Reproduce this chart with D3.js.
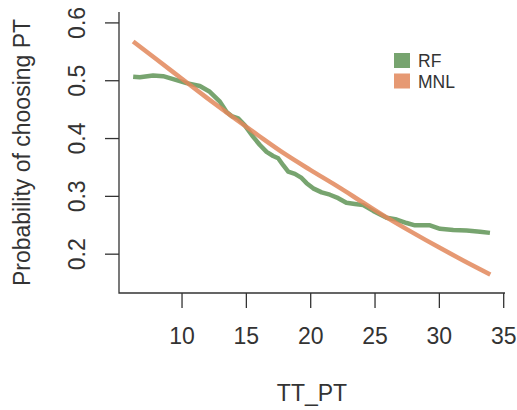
<!DOCTYPE html>
<html>
<head>
<meta charset="utf-8">
<script src="https://cdn.jsdelivr.net/npm/d3@7"></script>
<style>
  html, body { margin: 0; padding: 0; background: #fff; }
  svg { display: block; font-family: "Liberation Sans", Arial, Helvetica, sans-serif; }
</style>
</head>
<body>
<svg id="chart" width="517" height="410"></svg>
<script>
// ---- data ----
const rfX = [6.24, 6.76, 7.79, 8.57, 9.35, 10.39, 11.42, 12.20, 12.98, 13.50, 13.89, 14.40, 14.92, 15.57, 16.09, 16.61, 17.12, 17.51, 17.90, 18.29, 18.81, 19.33, 19.72, 20.23, 20.89, 21.53, 22.18, 22.81, 23.48, 24.12, 24.90, 25.94, 26.72, 27.50, 28.14, 29.31, 30.09, 31.12, 32.16, 33.20, 33.97];
const rfY = [0.506, 0.505, 0.508, 0.507, 0.502, 0.495, 0.490, 0.480, 0.463, 0.445, 0.438, 0.434, 0.422, 0.402, 0.388, 0.376, 0.369, 0.365, 0.353, 0.342, 0.338, 0.331, 0.322, 0.313, 0.306, 0.302, 0.296, 0.288, 0.286, 0.284, 0.274, 0.262, 0.259, 0.253, 0.249, 0.249, 0.243, 0.241, 0.240, 0.238, 0.236];
const mnlX = [6.24, 8, 10, 12, 14, 16, 18, 20, 22, 24, 26, 28, 30, 32, 34];
const mnlY = [0.567, 0.537, 0.503, 0.469, 0.436, 0.404, 0.373, 0.345, 0.318, 0.290, 0.262, 0.236, 0.211, 0.187, 0.164];
const xTicks = [10, 15, 20, 25, 30, 35];
const yTicks = [0.2, 0.3, 0.4, 0.5, 0.6];
const seriesNames = ["RF", "MNL"];
const seriesColors = ["#5f9456", "#e2875a"];
const xLabel = "TT_PT";
const yLabel = "Probability of choosing PT";

// ---- layout ----
const svg = d3.select("#chart");
const pLeft = 119, pRight = 505, pTop = 12, pBottom = 293;
const x = d3.scaleLinear().domain([5.14, 35.14]).range([pLeft, pRight]);
const y = d3.scaleLinear().domain([0.132, 0.618]).range([pBottom, pTop]);
const ink = "#333";

// axis box lines (L-shaped)
svg.append("path")
  .attr("d", `M${pLeft},${pTop}V${pBottom}H${pRight}`)
  .attr("fill", "none").attr("stroke", ink).attr("stroke-width", 1.3);

// x axis
const xAxis = d3.axisBottom(x).tickValues(xTicks).tickSize(15).tickFormat(d3.format("d"));
const gx = svg.append("g").attr("transform", `translate(0,${pBottom})`).call(xAxis);
gx.select(".domain").remove();
gx.selectAll(".tick line").attr("stroke", ink).attr("stroke-width", 1.3);
gx.selectAll(".tick text").attr("fill", ink).attr("font-size", 23).attr("font-family", "Liberation Sans, Arial, sans-serif")
  .attr("y", 43).attr("dy", "0.35em");

// y axis
const yAxis = d3.axisLeft(y).tickValues(yTicks).tickSize(14).tickFormat(d3.format(".1f"));
const gy = svg.append("g").attr("transform", `translate(${pLeft},0)`).call(yAxis);
gy.select(".domain").remove();
gy.selectAll(".tick line").attr("stroke", ink).attr("stroke-width", 1.3);
gy.selectAll(".tick text")
  .attr("fill", ink).attr("font-size", 23).attr("font-family", "Liberation Sans, Arial, sans-serif")
  .attr("x", 0).attr("y", 0)
  .attr("text-anchor", "middle")
  .attr("transform", "translate(-42,0) rotate(-90)")
  .attr("dy", "0.35em");

// axis titles
svg.append("text").attr("x", (pLeft + pRight) / 2).attr("y", 393).attr("dy", "0.35em")
  .attr("text-anchor", "middle").attr("font-size", 23).attr("fill", ink).text(xLabel);
svg.append("text").attr("transform", `translate(22,${(pTop + pBottom) / 2}) rotate(-90)`).attr("dy", "0.35em")
  .attr("text-anchor", "middle").attr("font-size", 23).attr("fill", ink).text(yLabel);

// lines
const rfData = rfX.map((v, i) => [v, rfY[i]]);
const mnlData = mnlX.map((v, i) => [v, mnlY[i]]);
const lineLin = d3.line().x(d => x(d[0])).y(d => y(d[1])).curve(d3.curveLinear);
const lineSmooth = d3.line().x(d => x(d[0])).y(d => y(d[1])).curve(d3.curveMonotoneX);

svg.append("path").datum(rfData).attr("d", lineLin)
  .attr("fill", "none").attr("stroke", seriesColors[0]).attr("stroke-opacity", 0.85)
  .attr("stroke-width", 4.5).attr("stroke-linejoin", "round").attr("stroke-linecap", "butt");
svg.append("path").datum(mnlData).attr("d", lineSmooth)
  .attr("fill", "none").attr("stroke", seriesColors[1]).attr("stroke-opacity", 0.85)
  .attr("stroke-width", 4.5).attr("stroke-linejoin", "round").attr("stroke-linecap", "butt");

// legend
const lg = svg.append("g");
seriesNames.forEach((name, i) => {
  lg.append("rect").attr("x", 394).attr("y", 53 + i * 20.5).attr("width", 16).attr("height", 15)
    .attr("fill", seriesColors[i]).attr("fill-opacity", 0.85);
  lg.append("text").attr("x", 418).attr("y", 60.5 + i * 21.5).attr("dy", "0.35em")
    .attr("font-size", 17.5).attr("fill", ink).text(name);
});
</script>
</body>
</html>
